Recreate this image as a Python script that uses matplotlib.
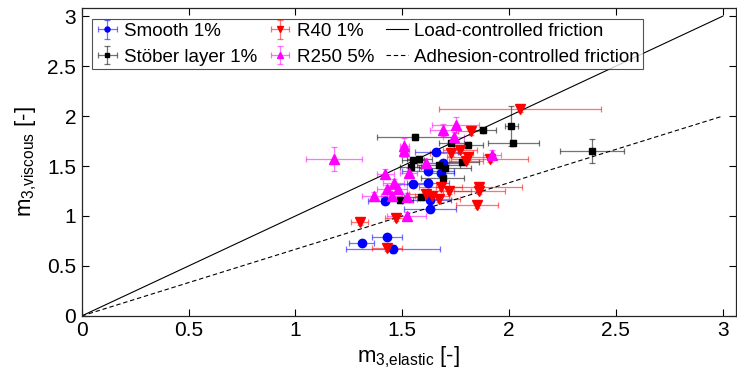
import matplotlib
matplotlib.use('Agg')
import matplotlib.pyplot as plt
import numpy as np

plt.rcParams['font.family'] = ['Liberation Sans', 'DejaVu Sans']
plt.rcParams['mathtext.fontset'] = 'custom'
plt.rcParams['mathtext.rm'] = 'Liberation Sans'
plt.rcParams['mathtext.it'] = 'Liberation Sans'

# Smooth 1%
smooth_x = [1.31, 1.43, 1.455, 1.42, 1.55, 1.62, 1.62, 1.68, 1.66, 1.69, 1.63, 1.63]
smooth_y = [0.73, 0.79, 0.67, 1.15, 1.32, 1.33, 1.45, 1.43, 1.64, 1.53, 1.16, 1.07]
smooth_xerr = [0.06, 0.07, 0.22, 0.08, 0.08, 0.10, 0.12, 0.06, 0.10, 0.08, 0.10, 0.12]
smooth_yerr = [0.02, 0.02, 0.04, 0.03, 0.03, 0.03, 0.03, 0.03, 0.03, 0.03, 0.03, 0.03]

# Stöber layer 1%
stober_x = [1.56, 1.55, 1.58, 1.54, 1.49, 1.59, 1.67, 1.70, 1.69, 1.73, 1.81, 1.78, 1.88, 2.01, 2.02, 2.39]
stober_y = [1.79, 1.56, 1.57, 1.49, 1.16, 1.19, 1.51, 1.48, 1.38, 1.73, 1.71, 1.54, 1.86, 1.90, 1.73, 1.65]
stober_xerr = [0.18, 0.05, 0.06, 0.05, 0.06, 0.08, 0.10, 0.12, 0.10, 0.06, 0.07, 0.08, 0.06, 0.03, 0.12, 0.15]
stober_yerr = [0.03, 0.03, 0.03, 0.03, 0.03, 0.03, 0.03, 0.03, 0.03, 0.03, 0.03, 0.03, 0.03, 0.20, 0.03, 0.12]

# R40 1%
r40_x = [2.05, 1.82, 1.77, 1.73, 1.81, 1.80, 1.91, 1.68, 1.86, 1.86, 1.72, 1.61, 1.64, 1.67, 1.85, 1.30, 1.43, 1.47]
r40_y = [2.07, 1.85, 1.66, 1.63, 1.59, 1.55, 1.57, 1.29, 1.29, 1.25, 1.25, 1.22, 1.20, 1.17, 1.11, 0.94, 0.68, 0.98]
r40_xerr = [0.38, 0.06, 0.08, 0.10, 0.10, 0.08, 0.18, 0.10, 0.20, 0.12, 0.10, 0.08, 0.08, 0.10, 0.10, 0.04, 0.07, 0.05]
r40_yerr = [0.03, 0.04, 0.03, 0.03, 0.03, 0.03, 0.03, 0.03, 0.03, 0.03, 0.03, 0.03, 0.03, 0.03, 0.03, 0.03, 0.03, 0.03]

# R250 5%
r250_x = [1.18, 1.51, 1.51, 1.42, 1.53, 1.46, 1.43, 1.48, 1.37, 1.45, 1.52, 1.52, 1.75, 1.69, 1.74, 1.92, 1.61]
r250_y = [1.57, 1.70, 1.65, 1.42, 1.43, 1.33, 1.27, 1.27, 1.20, 1.20, 1.19, 1.00, 1.91, 1.86, 1.79, 1.61, 1.53]
r250_xerr = [0.13, 0.02, 0.02, 0.04, 0.04, 0.05, 0.05, 0.04, 0.06, 0.05, 0.08, 0.09, 0.11, 0.06, 0.05, 0.04, 0.06]
r250_yerr = [0.12, 0.08, 0.06, 0.05, 0.05, 0.04, 0.04, 0.04, 0.04, 0.04, 0.04, 0.04, 0.08, 0.06, 0.05, 0.05, 0.04]

line_x = [0, 3]
load_slope = 1.0
adhesion_slope = 2.0 / 3.0

fig = plt.figure(figsize=(7.37, 3.9), dpi=100)
ax = fig.add_axes([0.111, 0.19, 0.887, 0.789])

def plot_series(x, y, xerr, yerr, color, marker, label, ms):
    ax.errorbar(x, y, xerr=xerr, yerr=yerr, fmt=marker, color=color, ms=ms,
                ecolor=color, elinewidth=0.9, capsize=2.5, capthick=0.9,
                label=label)

plot_series(smooth_x, smooth_y, smooth_xerr, smooth_yerr, '#0000ff', 'o', 'Smooth 1%', 6)
plot_series(stober_x, stober_y, stober_xerr, stober_yerr, 'black', 's', 'Stöber layer 1%', 5)
plot_series(r40_x, r40_y, r40_xerr, r40_yerr, '#ff0000', 'v', 'R40 1%', 6.5)
plot_series(r250_x, r250_y, r250_xerr, r250_yerr, '#ff00ff', '^', 'R250 5%', 6.5)

# lighten the error bars a bit, markers stay solid
for c in ax.containers:
    for lc in c.lines[2]:
        lc.set_alpha(0.55)
    for cap in c.lines[1]:
        cap.set_alpha(0.55)

lx = np.array(line_x)
ax.plot(lx, load_slope * lx, color='black', lw=0.8, label='Load-controlled friction')
ax.plot(lx, adhesion_slope * lx, color='black', lw=0.8, ls=(0, (4, 2.5)),
        label='Adhesion-controlled friction')

ax.set_xlim(0, 3.06)
ax.set_ylim(0, 3.08)
ticks = [0, 0.5, 1, 1.5, 2, 2.5, 3]
tick_labels = ['0', '0.5', '1', '1.5', '2', '2.5', '3']
ax.set_xticks(ticks)
ax.set_xticklabels(tick_labels)
ax.set_yticks(ticks)
ax.set_yticklabels(tick_labels)
ax.tick_params(direction='in', labelsize=15, length=5, width=0.8, top=True, right=True, pad=4)
for s in ax.spines.values():
    s.set_linewidth(0.9)
    s.set_color('#262626')

ax.set_xlabel('m$_{\\mathrm{3{,}elastic}}$ [-]', fontsize=16, labelpad=3)
ax.set_ylabel('m$_{\\mathrm{3{,}viscous}}$ [-]', fontsize=16, labelpad=6)

handles, labels = ax.get_legend_handles_labels()
order = [2, 3, 4, 5, 0, 1]
leg = ax.legend([handles[i] for i in order], [labels[i] for i in order], ncol=3,
                loc='upper left', fontsize=13.5, frameon=True, fancybox=False,
                edgecolor='#262626', borderpad=0.2, handlelength=1.2,
                handletextpad=0.3, columnspacing=0.6, labelspacing=0.45,
                bbox_to_anchor=(0.002, 0.995), markerscale=0.6)
leg.get_frame().set_linewidth(0.8)

fig.savefig('out.png', dpi=100)
